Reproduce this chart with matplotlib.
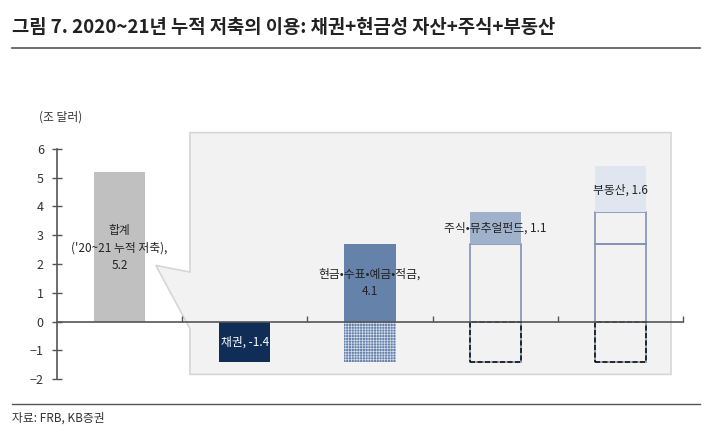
import matplotlib
matplotlib.use("Agg")
import matplotlib.pyplot as plt
from matplotlib.patches import Polygon, Rectangle

plt.rcParams['font.family'] = ['Noto Sans CJK KR', 'DejaVu Sans']
plt.rcParams['hatch.linewidth'] = 0.5

# --- datos ---
categorias = ['합계', '채권', '현금•수표•예금•적금', '주식•뮤추얼펀드', '부동산']
valores = [5.2, -1.4, 4.1, 1.1, 1.6]
etiquetas = ["합계\n('20~21 누적 저축),\n5.2", '채권, -1.4', '현금•수표•예금•적금,\n4.1',
             '주식•뮤추얼펀드, 1.1', '부동산, 1.6']
colores = ['#c0c0c0', '#0f2d57', '#6582aa', '#9fb1cb', '#dfe6f0']
y_ticks = [-2, -1, 0, 1, 2, 3, 4, 5, 6]

fig = plt.figure(figsize=(7.14, 4.3), dpi=100)
ax = fig.add_axes([0.0798, 0.1186, 0.8768, 0.5349])
ax.set_xlim(-0.5, 4.5)
ax.set_ylim(-2, 6)

ancho = 0.41

# panel de llamada (fondo gris)
panel = Polygon([(0.562, 6.57), (4.404, 6.57), (4.404, -1.84), (0.562, -1.84),
                 (0.562, -0.25), (0.29, 1.95), (0.562, 1.72)],
                closed=True, facecolor='#f2f2f2', edgecolor='#d6d6d6', lw=1.2,
                zorder=0.5, clip_on=False)
ax.add_patch(panel)

# total
ax.bar(0, valores[0], width=ancho, color=colores[0], zorder=2)

# cascada
acum = 0.0
minimo = 0.0
tramos = []  # tramos positivos previos para contornos
for i in range(1, len(valores)):
    base = acum
    tope = acum + valores[i]
    if i >= 3:
        for (a, b) in tramos:
            ax.add_patch(Rectangle((i - ancho / 2, a), ancho, b - a, facecolor='none',
                                   edgecolor='#7f93b3', lw=1.2, zorder=2))
        ax.add_patch(Rectangle((i - ancho / 2, minimo), ancho, -minimo, facecolor='none',
                               edgecolor='#111111', lw=1.2, ls=(0, (3, 1.5)), zorder=2))
    if base < 0 < tope:
        ax.bar(i, -base, bottom=base, width=ancho, color=colores[i], hatch='++++++',
               edgecolor='#d3dcea', lw=0, zorder=2)
        ax.bar(i, tope, bottom=0, width=ancho, color=colores[i], zorder=2)
        tramos.append((0, tope))
    else:
        ax.bar(i, tope - base, bottom=base, width=ancho, color=colores[i], zorder=2)
        if base >= 0:
            tramos.append((base, tope))
    acum = tope
    minimo = min(minimo, acum)

# etiquetas
pos_y = [2.57, -0.73, 1.36, 3.23, 4.56]
for i, txt in enumerate(etiquetas):
    col = 'white' if i == 1 else '#222222'
    ax.text(i, pos_y[i], txt, ha='center', va='center', fontsize=8.5, color=col,
            linespacing=1.45, zorder=3)

# ejes
for lado in ['top', 'right']:
    ax.spines[lado].set_visible(False)
ax.spines['bottom'].set_position(('data', 0))
ax.spines['bottom'].set_color('#555555')
ax.spines['bottom'].set_linewidth(1.2)
ax.spines['left'].set_color('#555555')
ax.spines['left'].set_linewidth(1.2)
ax.set_yticks(y_ticks)
ax.tick_params(axis='y', direction='inout', length=7, width=1, colors='#555555',
               labelcolor='#333333', labelsize=9, pad=6)
ax.set_xticks([0.5, 1.5, 2.5, 3.5, 4.5])
ax.set_xticklabels([])
ax.tick_params(axis='x', direction='in', length=4, width=1, colors='#555555')
ax.patch.set_alpha(0)

fig.text(0.085, 0.728, '(조 달러)', ha='center', va='center', fontsize=8.5, color='#333333')

# titulo y pie
fig.text(0.017, 0.937, '그림 7. 2020~21년 누적 저축의 이용: 채권+현금성 자산+주식+부동산',
         ha='left', va='center', fontsize=13.5, fontweight='bold', color='#222222')
fig.add_artist(plt.Line2D([0.017, 0.98], [0.888, 0.888], color='#555555', lw=1.2))
fig.add_artist(plt.Line2D([0.017, 0.98], [0.0605, 0.0605], color='#555555', lw=1.0))
fig.text(0.017, 0.028, '자료: FRB, KB증권', ha='left', va='center', fontsize=8.5, color='#333333')

fig.savefig('out.png', dpi=100)
